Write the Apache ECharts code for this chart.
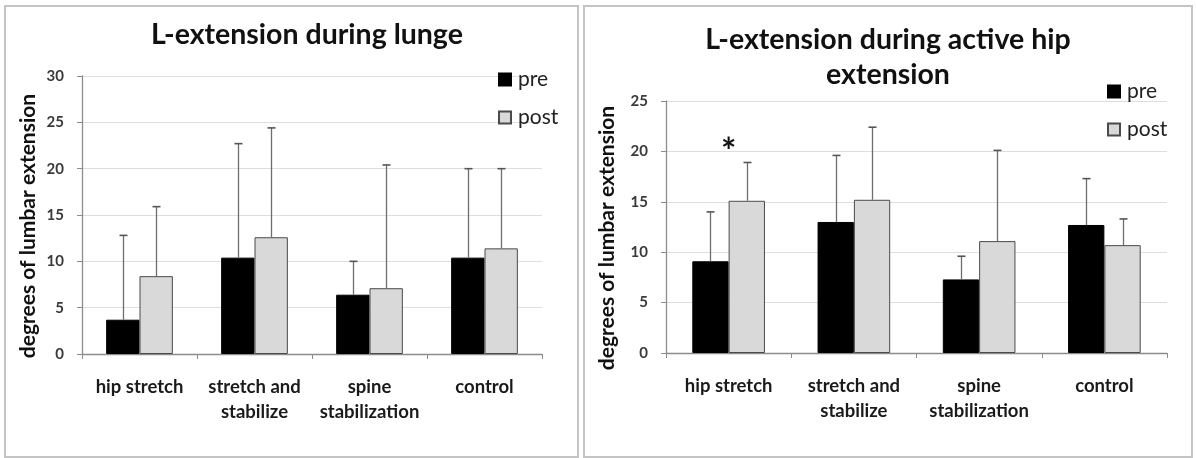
<!DOCTYPE html>
<html>
<head>
<meta charset="utf-8">
<script src="https://cdn.jsdelivr.net/npm/echarts@6/dist/echarts.min.js"></script>
<style>
  html, body { margin: 0; padding: 0; background: #ffffff; }
  #chart { width: 1196px; height: 458px; }
</style>
</head>
<body>
<div id="chart"></div>
<script>
// Groups shown on both panels
const categories = ['hip stretch', 'stretch and\nstabilize', 'spine\nstabilization', 'control'];

// Panel 1: lumbar extension during lunge (mean and SD, degrees)
const lungePre = [3.7, 10.4, 6.4, 10.4];
const lungePreSD = [9.1, 12.3, 3.6, 9.6];
const lungePost = [8.4, 12.6, 7.1, 11.4];
const lungePostSD = [7.5, 11.8, 13.3, 8.6];

// Panel 2: lumbar extension during active hip extension (mean and SD, degrees)
const hipPre = [9.1, 13.0, 7.3, 12.7];
const hipPreSD = [4.9, 6.6, 2.3, 4.6];
const hipPost = [15.1, 15.2, 11.1, 10.7];
const hipPostSD = [3.8, 7.2, 9.0, 2.6];

// Significance marker: [category index, height]
const sigMarks = [[0, 19.9]];

const lungeTicks = { min: 0, max: 30, interval: 5 };
const hipTicks = { min: 0, max: 25, interval: 5 };

const FONT = 'Lato';
const BAR_W = 0.29;          // bar width as a share of the category band
const PRE_COLOR = '#000000';
const POST_COLOR = '#d9d9d9';

// Upper whisker drawn above each bar: index, mean, sd; side picks left/right bar
function errorSeries(xIdx, yIdx, means, sds, side) {
  return {
    type: 'custom',
    xAxisIndex: xIdx,
    yAxisIndex: yIdx,
    z: 5,
    silent: true,
    data: means.map((m, i) => [i, m, m + sds[i]]),
    renderItem: function (params, api) {
      const band = api.size([1, 0])[0];
      const dx = side * band * BAR_W / 2;
      const p0 = api.coord([api.value(0), api.value(1)]);
      const p1 = api.coord([api.value(0), api.value(2)]);
      const x = Math.round(p0[0] + dx) + 0.5;
      const style = { stroke: '#6e6e6e', lineWidth: 1.3 };
      return {
        type: 'group',
        children: [
          { type: 'line', shape: { x1: x, y1: p0[1], x2: x, y2: p1[1] }, style: style },
          { type: 'line', shape: { x1: x - 4, y1: p1[1], x2: x + 4, y2: p1[1] }, style: { stroke: '#555', lineWidth: 1.6 } }
        ]
      };
    }
  };
}

function barSeries(name, xIdx, yIdx, data, color, border) {
  return {
    name: name,
    type: 'bar',
    xAxisIndex: xIdx,
    yAxisIndex: yIdx,
    barWidth: (BAR_W * 100) + '%',
    barGap: '0%',
    data: data,
    itemStyle: { color: color, borderColor: border, borderWidth: 1 },
    emphasis: { disabled: true }
  };
}

function xAxis(gridIndex) {
  return {
    type: 'category',
    gridIndex: gridIndex,
    data: categories,
    boundaryGap: true,
    axisLine: { lineStyle: { color: '#8c8c8c', width: 1.3 } },
    axisTick: { show: true, length: 5, alignWithLabel: false, lineStyle: { color: '#8c8c8c' } },
    axisLabel: {
      margin: 21,
      interval: 0,
      fontFamily: FONT,
      fontWeight: 'bold',
      fontSize: 18.5,
      lineHeight: 24.5,
      color: '#1a1a1a'
    }
  };
}

function yAxis(gridIndex, ticks, nameGap) {
  return {
    type: 'value',
    gridIndex: gridIndex,
    min: ticks.min,
    max: ticks.max,
    interval: ticks.interval,
    name: 'degrees of lumbar extension',
    nameLocation: 'middle',
    nameRotate: 90,
    nameGap: nameGap,
    nameTextStyle: { fontFamily: FONT, fontWeight: 'bold', fontSize: 21, color: '#111', padding: [0, 22, 0, 0] },
    axisLine: { show: true, lineStyle: { color: '#8c8c8c', width: 1.3 } },
    axisTick: { show: true, length: 5, lineStyle: { color: '#8c8c8c' } },
    axisLabel: { margin: 18, fontFamily: FONT, fontWeight: 'bold', fontSize: 15, color: '#3a3a3a' },
    splitLine: { show: true, lineStyle: { color: '#dedede', width: 1.2 } }
  };
}

function legend(left, top) {
  return {
    left: left,
    top: top,
    orient: 'vertical',
    itemWidth: 12,
    itemHeight: 12,
    itemGap: 17,
    padding: 0,
    icon: 'rect',
    selectedMode: false,
    data: ['pre', 'post'],
    textStyle: { fontFamily: FONT, fontSize: 21, color: '#222', lineHeight: 14, padding: [0, 0, 0, 2] }
  };
}

const chart = echarts.init(document.getElementById('chart'), null, { renderer: 'canvas' });

chart.setOption({
  animation: false,
  backgroundColor: '#ffffff',
  title: [
    {
      text: 'L-extension during lunge',
      left: 307, top: 20, padding: 0, textAlign: 'center',
      textStyle: { fontFamily: FONT, fontWeight: 'bold', fontSize: 28.5, lineHeight: 30, color: '#111' }
    },
    {
      text: 'L-extension during active hip\nextension',
      left: 888, top: 22, padding: 0, textAlign: 'center',
      textStyle: { fontFamily: FONT, fontWeight: 'bold', fontSize: 28.5, lineHeight: 35, color: '#111' }
    }
  ],
  legend: [legend(498, 69), legend(1107, 81)],
  grid: [
    { left: 82, right: 654, top: 76, bottom: 104, containLabel: false },
    { left: 666, right: 29, top: 101, bottom: 105, containLabel: false }
  ],
  xAxis: [xAxis(0), xAxis(1)],
  yAxis: [yAxis(0, lungeTicks, 43), yAxis(1, hipTicks, 48)],
  graphic: [
    { type: 'rect', shape: { x: 5, y: 6, width: 573, height: 451 }, style: { fill: 'none', stroke: '#c4c4c4', lineWidth: 2 }, silent: true, z: -1 },
    { type: 'rect', shape: { x: 584, y: 6, width: 608, height: 451 }, style: { fill: 'none', stroke: '#c4c4c4', lineWidth: 2 }, silent: true, z: -1 }
  ],
  series: [
    barSeries('pre', 0, 0, lungePre, PRE_COLOR, '#000'),
    barSeries('post', 0, 0, lungePost, POST_COLOR, '#4a4a4a'),
    errorSeries(0, 0, lungePre, lungePreSD, -1),
    errorSeries(0, 0, lungePost, lungePostSD, 1),
    barSeries('pre', 1, 1, hipPre, PRE_COLOR, '#000'),
    barSeries('post', 1, 1, hipPost, POST_COLOR, '#4a4a4a'),
    errorSeries(1, 1, hipPre, hipPreSD, -1),
    errorSeries(1, 1, hipPost, hipPostSD, 1),
    {
      type: 'custom',
      xAxisIndex: 1,
      yAxisIndex: 1,
      silent: true,
      data: sigMarks,
      renderItem: function (params, api) {
        const p = api.coord([api.value(0), api.value(1)]);
        return {
          type: 'text',
          style: {
            text: '*', x: p[0], y: p[1],
            align: 'center', verticalAlign: 'middle',
            font: 'bold 36px ' + FONT, fill: '#111'
          }
        };
      }
    }
  ]
});
</script>
</body>
</html>
